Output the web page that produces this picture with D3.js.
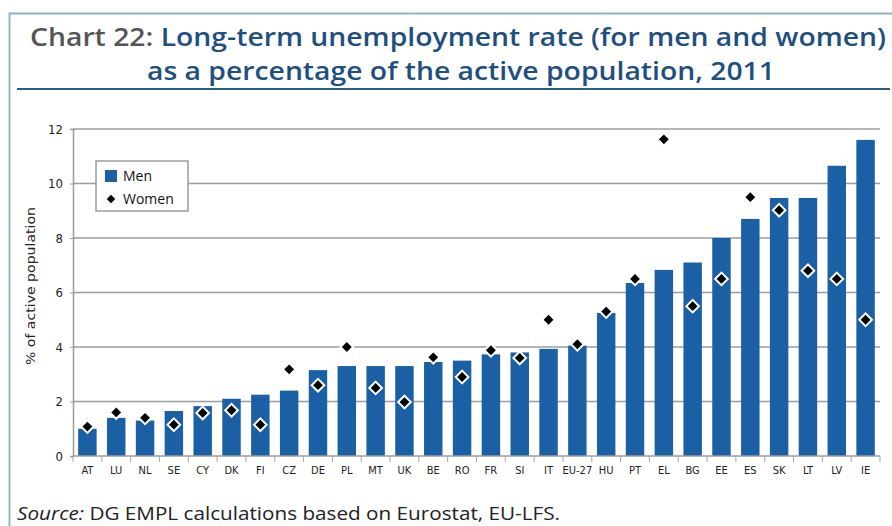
<!DOCTYPE html>
<html>
<head>
<meta charset="utf-8">
<script src="https://cdn.jsdelivr.net/npm/d3@7"></script>
<style>
  body { margin: 0; background: #fff; }
  svg { display: block; font-family: "Open Sans", "DejaVu Sans", sans-serif; }
</style>
</head>
<body>
<svg id="chart"></svg>
<script>
// values
var countries = ['AT', 'LU', 'NL', 'SE', 'CY', 'DK', 'FI', 'CZ', 'DE', 'PL', 'MT', 'UK', 'BE', 'RO',
  'FR', 'SI', 'IT', 'EU-27', 'HU', 'PT', 'EL', 'BG', 'EE', 'ES', 'SK', 'LT', 'LV', 'IE'];
var men = [1.0, 1.4, 1.3, 1.65, 1.83, 2.1, 2.25, 2.4, 3.15, 3.3, 3.3, 3.3, 3.45, 3.5,
  3.73, 3.8, 3.93, 4.05, 5.25, 6.35, 6.83, 7.1, 8.0, 8.7, 9.47, 9.47, 10.65, 11.6];
var women = [1.08, 1.6, 1.4, 1.15, 1.58, 1.68, 1.15, 3.18, 2.6, 4.0, 2.5, 1.98, 3.62, 2.9,
  3.88, 3.6, 5.0, 4.1, 5.3, 6.5, 11.62, 5.5, 6.5, 9.5, 9.02, 6.8, 6.5, 5.0];
var yTicks = [0, 2, 4, 6, 8, 10, 12];

const W = 892, H = 526;
const margin = { left: 73, right: 12, top: 129, bottom: 70 };
const blue = '#1b5fa4';
const cond = '"DejaVu Sans Condensed", sans-serif';

var svg = d3.select('#chart').attr('width', W).attr('height', H);

// outer frame and title block
svg.append('path')
    .attr('d', 'M9.5,' + H + 'V13.5H' + W)
    .attr('fill', 'none')
    .attr('stroke', '#8db4cf')
    .attr('stroke-width', 2);

svg.append('line')
    .attr('x1', 17).attr('x2', 890)
    .attr('y1', 89).attr('y2', 89)
    .attr('stroke', '#2c5f80')
    .attr('stroke-width', 2);

var t1 = svg.append('text')
    .attr('x', 30).attr('y', 46)
    .attr('textLength', 856)
    .attr('lengthAdjust', 'spacingAndGlyphs')
    .style('font-size', '25px')
    .style('font-weight', 600);
t1.append('tspan').attr('fill', '#555').text('Chart 22: ');
t1.append('tspan').attr('fill', '#1f4f7e').text('Long-term unemployment rate (for men and women)');

svg.append('text')
    .attr('x', 147).attr('y', 80)
    .attr('textLength', 628)
    .attr('lengthAdjust', 'spacingAndGlyphs')
    .attr('fill', '#1f4f7e')
    .style('font-size', '25px')
    .style('font-weight', 600)
    .text('as a percentage of the active population, 2011');

// scales
var x = d3.scaleBand()
    .domain(countries)
    .range([margin.left, W - margin.right])
    .paddingInner(0.36)
    .paddingOuter(0.18);

var y = d3.scaleLinear()
    .domain([0, 12])
    .range([H - margin.bottom, margin.top]);

// gridlines
svg.append('g')
    .selectAll('line')
    .data(yTicks.slice(1))
    .join('line')
    .attr('x1', margin.left).attr('x2', W - margin.right)
    .attr('y1', d => y(d)).attr('y2', d => y(d))
    .attr('stroke', '#9c9c9c')
    .attr('stroke-width', 1.5);

// y axis
var yAxis = svg.append('g')
    .attr('transform', 'translate(' + margin.left + ',0)')
    .call(d3.axisLeft(y).tickValues(yTicks).tickSize(3).tickPadding(7));
yAxis.select('.domain').attr('stroke', '#9c9c9c').attr('stroke-width', 1.5);
yAxis.selectAll('.tick line').attr('stroke', '#9c9c9c');
yAxis.selectAll('text')
    .attr('fill', '#222')
    .style('font-size', '13px')
    .style('font-family', cond);

svg.append('text')
    .attr('transform', 'translate(35,' + 286 + ') rotate(-90)')
    .attr('x', -79)
    .attr('textLength', 158)
    .attr('lengthAdjust', 'spacingAndGlyphs')
    .attr('fill', '#222')
    .style('font-size', '13px')
    .style('font-family', cond)
    .text('% of active population');

// bars (men)
var data = countries.map((c, i) => ({ c: c, men: men[i], women: women[i] }));

svg.append('g')
    .selectAll('rect')
    .data(data)
    .join('rect')
    .attr('x', d => x(d.c))
    .attr('width', x.bandwidth())
    .attr('y', d => y(d.men))
    .attr('height', d => y(0) - y(d.men))
    .attr('fill', blue);

// x axis
var xAxisLine = svg.append('g');
xAxisLine.append('line')
    .attr('x1', margin.left).attr('x2', W - margin.right)
    .attr('y1', y(0)).attr('y2', y(0))
    .attr('stroke', '#9c9c9c')
    .attr('stroke-width', 1.5);
var step = x.step();
var bounds = countries.map(c => x(c) - x.paddingInner() * step / 2);
bounds.push(W - margin.right);
bounds[0] = margin.left;
xAxisLine.selectAll('.tk')
    .data(bounds)
    .join('line')
    .attr('class', 'tk')
    .attr('x1', d => d).attr('x2', d => d)
    .attr('y1', y(0)).attr('y2', y(0) + 6)
    .attr('stroke', '#b0a0a0');
xAxisLine.selectAll('text')
    .data(countries)
    .join('text')
    .attr('x', d => x(d) + x.bandwidth() / 2)
    .attr('y', y(0) + 18)
    .attr('text-anchor', 'middle')
    .attr('fill', '#222')
    .style('font-size', '11px')
    .style('font-family', cond)
    .text(d => d);

// women diamonds
svg.append('g')
    .selectAll('path')
    .data(data)
    .join('path')
    .attr('transform', d => 'translate(' + (x(d.c) + x.bandwidth() / 2) + ',' + y(d.women) + ') rotate(45)')
    .attr('d', d3.symbol(d3.symbolSquare, 80))
    .attr('fill', '#000')
    .attr('stroke', '#fff')
    .attr('stroke-width', 2);

// legend
var lg = svg.append('g').attr('transform', 'translate(96,161)');
lg.append('rect')
    .attr('width', 92).attr('height', 50)
    .attr('fill', '#fff')
    .attr('stroke', '#9c9c9c')
    .attr('stroke-width', 1.5);
lg.append('rect')
    .attr('x', 9).attr('y', 9).attr('width', 12).attr('height', 12)
    .attr('fill', blue);
lg.append('path')
    .attr('transform', 'translate(15,38) rotate(45)')
    .attr('d', d3.symbol(d3.symbolSquare, 36))
    .attr('fill', '#000');
lg.append('text').attr('x', 27).attr('y', 20).text('Men')
    .style('font-size', '14px').attr('fill', '#111');
lg.append('text').attr('x', 27).attr('y', 43).text('Women')
    .style('font-size', '14px').attr('fill', '#111');

// source
var src = svg.append('text')
    .attr('x', 17).attr('y', 520)
    .attr('textLength', 543)
    .attr('lengthAdjust', 'spacingAndGlyphs')
    .attr('fill', '#222')
    .style('font-size', '18px');
src.append('tspan').style('font-style', 'italic').text('Source:');
src.append('tspan').text(' DG EMPL calculations based on Eurostat, EU-LFS.');
</script>
</body>
</html>
